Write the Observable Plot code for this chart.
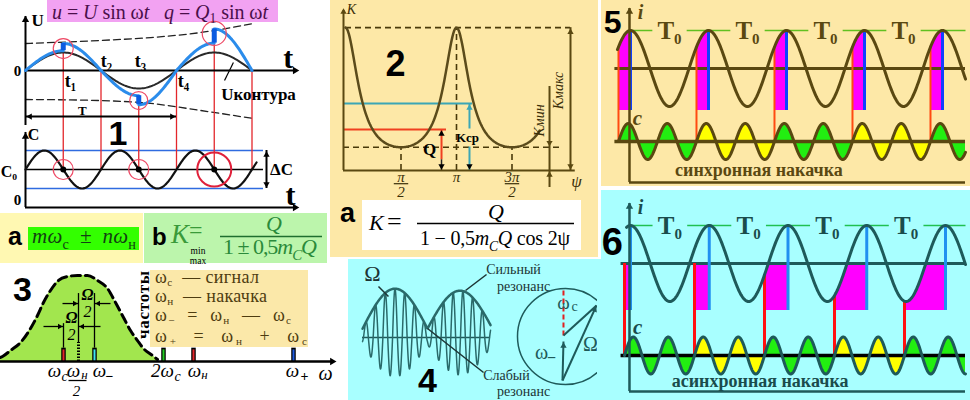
<!DOCTYPE html>
<html lang="ru"><head><meta charset="utf-8">
<script src="https://cdn.jsdelivr.net/npm/d3@7"></script>
<script src="https://cdn.jsdelivr.net/npm/@observablehq/plot@0.6"></script>
<style>
html,body{margin:0;padding:0;background:#fff;}
#root{position:relative;width:970px;height:400px;overflow:hidden;background:#fff;}
#root svg{position:absolute;}
</style></head><body><div id="root"></div>
<script>
const PI = Math.PI;
const SERIF = "'Liberation Serif','DejaVu Serif',serif";
const SANS = "'Liberation Sans','DejaVu Sans',sans-serif";
const RED = "#E3262B", OLIVE = "#5A4811", TEAL = "#1E5A5A";

// ================= DATA =================
// Panel 1 : u = U sin wt, charge q pumped at t1, t3, t5 (t in units of T)
const p1Marks = [0.25, 0.5, 0.75, 1.0, 1.25, 1.5];
const p1Labels = ["t₁", "t₂", "t₃", "t₄"];
const uAmplitude = 1;
const qQuarterAmps = [1.1, 1.5, 1.4, 1.9, 1.52, 2.31];
const qJumpTimes = [0.25, 0.75, 1.25];
const qJumpFrom = [1.1, -1.4, 1.52];
const qJumpTo = [1.5, -1.9, 2.31];
const envTimes = [0, 0.5, 0.83, 1.16, 1.51];
const envUpper = [1.5, 1.67, 1.83, 2.11, 2.61];
const envLower = [-1.61, -1.67, -1.83, -2.22, -2.67];
const cAmplitude = 1;      // ΔC
const cFreqRatio = 2;      // C varies at twice the signal frequency
// Panel 2 : K = Q / (1 - 0.5 mC Q cos 2ψ), ψ in units of π
const kQ = 1, kMC = 1.44, kSpan = 1.75;
const kcpLevel = 1.675, qLevel = 1.025;
const psiTicks = [0.5, 1, 1.5];
const psiTickNum = ["π", "π", "3π"];
const psiTickDen = ["2", "", "2"];
// Panel 3 : resonance curve and spectrum
const bellX = [0, 2, 10, 20, 30, 37, 43, 50, 58, 67, 77, 87, 97, 107, 115, 123, 130, 137, 143, 152, 157];
const bellA = [0.047, 0.058, 0.128, 0.221, 0.384, 0.535, 0.686, 0.826, 0.942, 0.988, 1.0, 1.0, 0.942, 0.849, 0.686, 0.512, 0.36, 0.244, 0.151, 0.07, 0.023];
const specFreq = [63, 78, 94, 163, 193, 293];
const specColor = ["#E3262B", "dotted", "#3EE6F2", "#22CC22", "#E3262B", "#1F5BE0"];
// Panel 4 : beats
const beatBase = 0.22, beatHumps = [1.0, 0.95], carrierCycles = 6.7, troughRatio = 0.8;
// Panels 5, 6 : synchronous / asynchronous pumping (t in units of T0)
const signalPeaks = [0, 1, 2, 3, 4];
const syncPumpPeriod = 0.5, syncPumpStart = -0.154;
const asyncPumpPeriod = 0.4444, asyncPumpStart = -0.076;
const fillColors = ["#22EE11", "#FFFF00"];

// ================= HELPERS =================
const root = document.getElementById("root");
const rng = (a, b, n) => d3.range(n + 1).map(i => a + (b - a) * i / n);
function panel(o) {
  const svg = Plot.plot({
    width: o.width, height: o.height,
    marginTop: 0, marginRight: 0, marginBottom: 0, marginLeft: 0,
    x: {domain: o.x, range: [0, o.width], axis: null},
    y: {domain: o.y, range: [o.height, 0], axis: null},
    style: {background: "transparent", overflow: o.clip ? "hidden" : "visible"},
    marks: o.marks.flat()
  });
  svg.style.position = "absolute";
  svg.style.left = o.left + "px";
  svg.style.top = o.top + "px";
  root.appendChild(svg);
}
function txt(s, x, y, o = {}) {
  return Plot.text([s], {x: () => x, y: () => y, text: d => d, fontFamily: SERIF, fontSize: 16, fill: "#000", textAnchor: "middle", lineAnchor: "middle", ...o});
}
function seg(x1, y1, x2, y2, o = {}) {
  return Plot.link([0], {x1: () => x1, y1: () => y1, x2: () => x2, y2: () => y2, stroke: "#000", strokeWidth: 1.5, ...o});
}
function head(x, y, a, o = {}) {
  const r = o.r ?? 3, k = 1.5 * r, rad = a * PI / 180;
  return Plot.dot([0], {x: () => x, y: () => y, symbol: "triangle2", r, fill: o.fill ?? "#000", rotate: a, dx: -k * Math.sin(rad), dy: k * Math.cos(rad)});
}
function rich(svg, x, y, parts, o = {}) {
  const size = o.size || 20;
  const subOff = o.subOff ?? 0.28, subSize = o.subSize ?? 0.68;
  const t = svg.append("text").attr("x", x).attr("y", y)
    .attr("font-family", o.family || SERIF).attr("font-size", size)
    .attr("fill", o.fill || "#000").attr("font-weight", o.weight || "normal")
    .attr("text-anchor", o.anchor || "start").style("white-space", "pre");
  if (o.italic) t.attr("font-style", "italic");
  if (o.len) t.attr("textLength", o.len).attr("lengthAdjust", "spacing");
  let cur = 0;
  for (const p of parts) {
    const [s, f = {}] = Array.isArray(p) ? p : [p];
    const off = f.sub ? size * subOff : 0;
    const ts = t.append("tspan").text(s);
    if (off !== cur) { ts.attr("dy", off - cur); cur = off; }
    if (f.sub) ts.attr("font-size", size * subSize);
    if (f.i) ts.attr("font-style", "italic");
    if (f.r) ts.attr("font-style", "normal");
    if (f.fill) ts.attr("fill", f.fill);
  }
  return t;
}

// ================= BACKGROUNDS =================
const bg = d3.create("svg").attr("width", 970).attr("height", 400).style("left", "0px").style("top", "0px");
root.appendChild(bg.node());
[
  [330, 0, 268, 257, "#FDE8A7"], [601, 0, 369, 186, "#FDE8A7"],
  [601, 190, 369, 210, "#A8FFFF"], [348, 259, 253, 141, "#A8FFFF"],
  [362, 200, 219, 50, "#FFFFFF"], [0, 213, 143, 50, "#FFF8B2"],
  [28, 227, 111, 23, "#33FF00"], [144, 213, 183, 50, "#BCF5AC"],
  [150, 270, 158, 77, "#FBE8A9"], [47, 0, 231, 22, "#F2A2F2"]
].forEach(([x, y, w, h, c]) => bg.append("rect").attr("x", x).attr("y", y).attr("width", w).attr("height", h).attr("fill", c));

// ================= PANEL 1 (top) =================
const X1 = [-25 / 151, 315 / 151];
const Y1a = [-55 / 18, 70 / 18];
const qPts = qQuarterAmps.flatMap((A, k) => rng(k / 4, (k + 1) / 4, 30).map(t => ({t, v: A * Math.sin(2 * PI * t), k})));
const uPts = rng(0, 1.5, 150).map(t => ({t, v: uAmplitude * Math.sin(2 * PI * t)}));
const redTop = p1Marks.map(t => { const j = qJumpTimes.indexOf(t); return j >= 0 ? qJumpTo[j] : 0; });
const envU = envTimes.map((t, i) => ({t, v: envUpper[i]}));
const envL = envTimes.map((t, i) => ({t, v: envLower[i]}));
const pink = "#EE4A66";
panel({left: 0, top: 0, width: 340, height: 125, x: X1, y: Y1a, marks: [
  Plot.line(envU, {x: "t", y: "v", curve: "monotone-x", stroke: "#222", strokeWidth: 1.3, strokeDasharray: "7,4"}),
  Plot.line(envL, {x: "t", y: "v", curve: "monotone-x", stroke: "#222", strokeWidth: 1.3, strokeDasharray: "7,4"}),
  Plot.ruleX(p1Marks, {x: d => d, y1: (d, i) => redTop[i], y2: Y1a[0], stroke: RED, strokeWidth: 1.3}),
  Plot.ruleY([0], {x1: 0, x2: 1.79, stroke: "#000", strokeWidth: 2}),
  head(1.82, 0, 90, {r: 3.5}),
  Plot.ruleX([0], {y1: Y1a[0], y2: 3.0, stroke: "#000", strokeWidth: 2}),
  head(0, 3.1, 0, {r: 3.5}),
  Plot.ruleY([-2.56], {x1: 0, x2: 1, stroke: "#000", strokeWidth: 2}),
  head(0, -2.56, -90), head(1, -2.56, 90),
  Plot.line(uPts, {x: "t", y: "v", stroke: "#2A2A2A", strokeWidth: 2}),
  Plot.line(qPts, {x: "t", y: "v", z: "k", stroke: "#2B8CEB", strokeWidth: 3}),
  Plot.ruleX(qJumpTimes, {x: d => d, y1: (d, i) => qJumpFrom[i], y2: (d, i) => qJumpTo[i], stroke: "#0B5BE0", strokeWidth: 5}),
  Plot.dot([0], {x: () => 0.25, y: () => 1.22, r: 10, stroke: pink, fill: "none", strokeWidth: 1.2}),
  Plot.dot([0], {x: () => 0.75, y: () => -1.67, r: 9, stroke: pink, fill: "none", strokeWidth: 1.2}),
  Plot.dot([0], {x: () => 1.25, y: () => 2.06, r: 12, stroke: pink, fill: "none", strokeWidth: 1.2}),
  txt("U", 0.08, 2.78, {fontWeight: "bold", fontSize: 17}),
  txt("0", -0.053, -0.05, {fontWeight: "bold", fontSize: 15}),
  txt("t", 1.74, 0.67, {fontWeight: "bold", fontSize: 30}),
  txt(p1Labels[0], 0.298, -0.61, {fontWeight: "bold", fontSize: 18}),
  txt(p1Labels[1], 0.536, 0.5, {fontWeight: "bold", fontSize: 18}),
  txt(p1Labels[2], 0.762, 0.5, {fontWeight: "bold", fontSize: 18}),
  txt(p1Labels[3], 1.046, -0.61, {fontWeight: "bold", fontSize: 18}),
  txt("Uконтура", 1.543, -1.33, {fontWeight: "bold", fontSize: 17}),
  seg(1.377, 0.44, 1.318, -0.56, {strokeWidth: 1.2}),
  txt("T", 0.377, -2.22, {fontWeight: "bold", fontSize: 13})
]});

// ================= PANEL 1 (bottom, capacitance) =================
const Y1b = [-41 / 19, 44 / 19];
const cPts = rng(0, 1.53, 200).map(t => ({t, v: cAmplitude * Math.sin(2 * PI * cFreqRatio * t)}));
panel({left: 0, top: 125, width: 340, height: 85, x: X1, y: Y1b, marks: [
  Plot.ruleY([cAmplitude, -cAmplitude], {x1: 0, x2: 1.576, stroke: "#2F6BE0", strokeWidth: 1.5}),
  Plot.ruleY([0], {x1: 0, x2: 1.576, stroke: "#000", strokeWidth: 1.5}),
  Plot.ruleX(p1Marks, {x: d => d, y1: 0, y2: Y1b[1], stroke: RED, strokeWidth: 1.3}),
  Plot.ruleX([0], {y1: -2.0, y2: 1.95, stroke: "#000", strokeWidth: 2}),
  head(0, 2.0, 0, {r: 3.5}),
  Plot.ruleY([-2.0], {x1: 0, x2: 1.79, stroke: "#000", strokeWidth: 2}),
  head(1.82, -2.0, 90, {r: 3.5}),
  Plot.line(cPts, {x: "t", y: "v", stroke: "#111", strokeWidth: 2.2}),
  Plot.ruleX([1.596], {y1: -cAmplitude, y2: cAmplitude, stroke: "#000", strokeWidth: 2}),
  head(1.596, cAmplitude, 0), head(1.596, -cAmplitude, 180),
  Plot.dot([0], {x: () => 0.25, y: () => 0, r: 10, stroke: pink, fill: "none", strokeWidth: 1.2}),
  Plot.dot([0], {x: () => 0.75, y: () => 0, r: 10, stroke: pink, fill: "none", strokeWidth: 1.2}),
  Plot.dot([0], {x: () => 1.25, y: () => 0, r: 17, stroke: "#E0203A", fill: "none", strokeWidth: 2}),
  Plot.dot([0.25, 0.75, 1.25], {x: d => d, y: () => 0, r: 3, fill: "#000"}),
  txt("C", 0.053, 1.84, {fontWeight: "bold", fontSize: 16}),
  txt("C₀", -0.11, -0.1, {fontWeight: "bold", fontSize: 16}),
  txt("0", -0.053, -1.63, {fontWeight: "bold", fontSize: 15}),
  txt("t", 1.755, -1.37, {fontWeight: "bold", fontSize: 30}),
  txt("ΔC", 1.695, 0.0, {fontWeight: "bold", fontSize: 17}),
  txt("1", 0.613, 1.87, {fontFamily: SANS, fontWeight: "bold", fontSize: 34})
]});

// ================= PANEL 2 =================
const kFun = p => kQ / (1 - 0.5 * kMC * kQ * Math.cos(2 * PI * p));
const kMax = kFun(0), kMin = kFun(0.5);
const kPts = rng(0, kSpan, 240).map(p => ({p, K: kFun(p)}));
const dash = {stroke: "#4A3A0A", strokeWidth: 1.6, strokeDasharray: "6,4"};
const TEALL = "#3BA6B6";
panel({left: 330, top: 0, width: 268, height: 257, x: [-15 / 111, 253 / 111], y: [-87 / 40, 170 / 40], marks: [
  Plot.ruleY([kMax], {x1: 0, x2: 2.027, ...dash}),
  Plot.ruleX([1], {y1: 0, y2: kMax, ...dash}),
  Plot.ruleY([kMin], {x1: -0.018, x2: 1.94, ...dash}),
  Plot.ruleX([0.5, 1.5], {y1: 0, y2: kMin, ...dash}),
  Plot.ruleY([kcpLevel], {x1: -0.018, x2: 1.144, stroke: TEALL, strokeWidth: 2}),
  seg(1.117, 0.0, 1.117, 0.6, {stroke: TEALL, strokeWidth: 2}),
  seg(1.117, 1.05, 1.117, kcpLevel, {stroke: TEALL, strokeWidth: 2}),
  head(1.117, kcpLevel, 0, {fill: TEALL}), head(1.117, 0, 180),
  Plot.ruleY([qLevel], {x1: -0.018, x2: 0.91, stroke: "#F04020", strokeWidth: 2}),
  seg(0.865, 0.28, 0.865, qLevel, {stroke: "#F04020", strokeWidth: 2}),
  seg(0.865, 0, 0.865, 0.28, {stroke: "#222", strokeWidth: 1.5}),
  head(0.865, qLevel, 0), head(0.865, 0, 180),
  Plot.ruleX([-0.018], {y1: 0, y2: 4.0, stroke: OLIVE, strokeWidth: 2}),
  head(-0.018, 4.075, 0, {fill: OLIVE}),
  Plot.ruleY([0], {x1: -0.018, x2: 2.07, stroke: OLIVE, strokeWidth: 2}),
  Plot.ruleX([2.027], {y1: 0, y2: kMax, stroke: OLIVE, strokeWidth: 2}),
  head(2.027, kMax, 0, {fill: OLIVE}), head(2.027, 0, 180, {fill: OLIVE}),
  Plot.ruleX([1.838], {y1: -0.425, y2: 2.1, stroke: OLIVE, strokeWidth: 2}),
  head(1.838, kMin, 180, {fill: OLIVE}), head(1.838, 0, 0, {fill: OLIVE}),
  Plot.line(kPts, {x: "p", y: "K", stroke: "#5B4B1B", strokeWidth: 2.5}),
  Plot.text(psiTicks, {x: d => d, y: () => -0.175, text: (d, i) => psiTickNum[i], fontFamily: SERIF, fontStyle: "italic", fontSize: 15, fill: "#3A2E08", lineAnchor: "middle"}),
  Plot.text(psiTicks.filter((d, i) => psiTickDen[i]), {x: d => d, y: () => -0.545, text: () => "2", fontFamily: SERIF, fontStyle: "italic", fontSize: 15, fill: "#3A2E08", lineAnchor: "middle"}),
  Plot.link(psiTicks.filter((d, i) => psiTickDen[i]), {x1: d => d - 0.065, x2: d => d + 0.065, y1: () => -0.33, y2: () => -0.33, stroke: "#3A2E08", strokeWidth: 1.2}),
  txt("K", 0.054, 4.03, {fontStyle: "italic", fontSize: 14, fill: "#3A2E08"}),
  txt("ψ", 2.081, -0.275, {fontStyle: "italic", fontSize: 17, fill: "#3A2E08"}),
  txt("Kмакс", 1.919, 2.0, {fontStyle: "italic", fontSize: 14, rotate: -90, fill: "#3A2E08"}),
  txt("Kмин", 1.748, 1.25, {fontStyle: "italic", fontSize: 14, rotate: -90, fill: "#3A2E08"}),
  txt("Kср", 1.099, 0.825, {fontWeight: "bold", fontSize: 13}),
  txt("Q", 0.757, 0.525, {fontWeight: "bold", fontSize: 17}),
  txt("2", 0.45, 2.65, {fontFamily: SANS, fontWeight: "bold", fontSize: 36})
]});

// ================= PANELS 5 & 6 =================
function pumpPanel(o) {
  const {iH, H, xScale, bottomMag, cap, P, start, col, textCol, label, num, numY, axisTop, axisBottom, iStart, lineStart, tEnd, cCol} = o;
  const X = [-33 / xScale, 340 / xScale];
  const Yi = [(75 - iH) / 38 + o.iShift, 75 / 38 + o.iShift];
  const reds = signalPeaks.map(k => start + k * 2 * P);
  const iPts = rng(iStart, tEnd, 500).map(t => ({t, v: Math.cos(2 * PI * t)}));
  const mag = signalPeaks.flatMap((k, j) => rng(reds[j], k, 20).map(t => ({t, v: Math.min(Math.cos(2 * PI * t), cap), k})));
  const greens = [];
  signalPeaks.forEach(k => { if (k < 4) { greens.push([k, k + 0.28], [k + 0.72, k + 1]); } else greens.push([k, tEnd]); });
  panel({left: 597, top: o.panelTop, width: 373, height: iH, x: X, y: Yi, marks: [
    Plot.areaY(mag, {x: "t", y1: bottomMag, y2: "v", z: "k", fill: "#FF00FF"}),
    Plot.ruleY([0], {x1: lineStart, x2: tEnd, stroke: col, strokeWidth: 3}),
    Plot.ruleX(reds, {x: d => d, y1: d => Math.min(Math.cos(2 * PI * d), cap), y2: Yi[0], stroke: o.redCol, strokeWidth: o.redW}),
    Plot.ruleX(signalPeaks, {x: d => d, y1: bottomMag, y2: 1, stroke: o.blueCol, strokeWidth: 3}),
    Plot.link(greens, {x1: d => d[0], x2: d => d[1], y1: () => 1, y2: () => 1, stroke: o.greenCol, strokeWidth: 1.5}),
    Plot.line(iPts, {x: "t", y: "v", stroke: col, strokeWidth: 3}),
    Plot.text(signalPeaks.slice(0, 4), {x: d => d + 0.5, y: () => 1.0, text: () => "T₀", fontFamily: SERIF, fontWeight: "bold", fontSize: 25, fill: textCol, lineAnchor: "middle"}),
    txt("i", 0.128, 1.47, {fontStyle: "italic", fontWeight: "bold", fontSize: 20, fill: textCol}),
    txt(num, -0.23, numY, {fontFamily: SANS, fontWeight: "bold", fontSize: o.numSize})
  ]});
  const cz = o.cZero;
  const amp = o.cAmpPx;
  const Yc = [(cz - H) / amp, cz / amp];
  const cPts = rng(start, tEnd, 900).map(t => ({t, v: Math.sin(2 * PI * (t - start) / P), k: Math.floor((t - start) / (2 * P) + 1e-9)}));
  panel({left: 597, top: o.panelTop, width: 373, height: H, x: X, y: Yc, marks: [
    Plot.areaY(cPts.filter(d => d.k % 2 === 0), {x: "t", y1: 0, y2: "v", z: "k", fill: fillColors[0]}),
    Plot.areaY(cPts.filter(d => d.k % 2 === 1), {x: "t", y1: 0, y2: "v", z: "k", fill: fillColors[1]}),
    Plot.ruleY([0], {x1: lineStart, x2: tEnd, stroke: cCol, strokeWidth: 3.5}),
    Plot.line(cPts, {x: "t", y: "v", stroke: col, strokeWidth: 3}),
    Plot.ruleX([-0.013], {y1: (cz - axisBottom) / amp, y2: (cz - axisTop) / amp, stroke: col, strokeWidth: 2.5}),
    head(-0.013, (cz - axisTop + 2) / amp, 0, {fill: col, r: 3.5}),
    Plot.ruleY([(cz - axisBottom) / amp], {x1: -0.013, x2: tEnd, stroke: col, strokeWidth: 2.5}),
    txt("c", 0.09, o.cLabelY, {fontStyle: "italic", fontWeight: "bold", fontSize: 21, fill: textCol}),
    txt(label, 1.646, o.labelY, {fontWeight: "bold", fontSize: 18, fill: textCol})
  ]});
}
pumpPanel({panelTop: 0, iH: 141, H: 188, xScale: 78, iShift: -7 / 38, bottomMag: -1.105, cap: 5, P: syncPumpPeriod, start: syncPumpStart,
  col: OLIVE, textCol: OLIVE, cCol: OLIVE, label: "синхронная накачка", num: "5", numY: 1.21, numSize: 32, axisTop: 8, axisBottom: 182,
  iStart: -0.167, lineStart: -0.2, tEnd: 4.295, redCol: "#FF4A10", redW: 2, blueCol: "#1040FF", greenCol: "#60C020",
  cZero: 141, cAmpPx: 18, cLabelY: 1.3, labelY: -1.6});
pumpPanel({panelTop: 188, iH: 167, H: 212, xScale: 78.75, iShift: 0, bottomMag: -1.237, cap: 0, P: asyncPumpPeriod, start: asyncPumpStart,
  col: TEAL, textCol: "#1A4C4C", cCol: "#000", label: "асинхронная накачка", num: "6", numY: 0.55, numSize: 38, axisTop: 15, axisBottom: 203,
  iStart: -0.05, lineStart: -0.12, tEnd: 4.254, redCol: "#FF1010", redW: 3, blueCol: "#2090F0", greenCol: "#20C050",
  cZero: 167, cAmpPx: 18.5, cLabelY: 1.51, labelY: -1.405});

// ================= PANEL 4 (beats) =================
const env = t => beatBase + beatHumps[Math.min(1, Math.floor(t))] * Math.abs(Math.sin(PI * t));
const beatPts = rng(0, 1.97, 800).map(t => { const c = Math.cos(2 * PI * carrierCycles * (t - 0.5)); return {t, v: env(t) * (c >= 0 ? c : troughRatio * c)}; });
const envPts = rng(0, 1.97, 200).map(t => ({t, v: env(t)}));
const LAB4 = "#1C3434";
panel({left: 348, top: 259, width: 249, height: 141, x: [-14 / 65, 235 / 65], y: [-63 / 40, 78 / 40], clip: true, marks: [
  Plot.ruleY([0], {x1: 0, x2: 1.97, stroke: TEAL, strokeWidth: 1.5}),
  Plot.line(beatPts, {x: "t", y: "v", stroke: "#2A6A6A", strokeWidth: 1.5}),
  Plot.line(envPts, {x: "t", y: "v", stroke: "#2A6A6A", strokeWidth: 2.5}),
  txt("Ω", 0.154, 1.6, {fontSize: 22, fill: LAB4}),
  seg(0.246, 1.275, 0.4, 1.025, {stroke: LAB4, strokeWidth: 1.5}),
  txt("Сильный", 2.323, 1.7, {fontSize: 14, fill: LAB4}),
  txt("резонанс", 2.477, 1.27, {fontSize: 14, fill: LAB4}),
  seg(1.585, 1.175, 1.908, 1.575, {stroke: LAB4, strokeWidth: 1.5}),
  txt("Слабый", 2.215, -0.94, {fontSize: 14, fill: LAB4}),
  txt("резонанс", 2.477, -1.36, {fontSize: 14, fill: LAB4}),
  seg(1.0, 0.225, 1.862, -0.875, {stroke: LAB4, strokeWidth: 1.5}),
  txt("4", 1.0, -1.1, {fontFamily: SANS, fontWeight: "bold", fontSize: 34})
]});
// phasor diagram
panel({left: 510, top: 259, width: 87, height: 141, x: [-55 / 48, 32 / 48], y: [-64 / 48, 77 / 48], clip: true, marks: [
  Plot.dot([0], {x: () => 0, y: () => 0, r: 48, stroke: TEAL, fill: "none", strokeWidth: 1.5}),
  seg(-0.042, 0.02, -0.042, 0.98, {stroke: "#E02020", strokeWidth: 2, strokeDasharray: "5,3"}),
  seg(-0.0625, -0.917, -0.042, -0.104, {stroke: TEAL, strokeWidth: 2}),
  head(-0.042, -0.104, 0, {fill: TEAL}),
  seg(-0.0625, -0.917, 0.646, 0.646, {stroke: TEAL, strokeWidth: 2}),
  seg(-0.042, 0.02, 0.646, 0.646, {stroke: TEAL, strokeWidth: 2}),
  head(0.646, 0.646, 24, {fill: TEAL}),
  txt("ω", -0.042, 0.708, {fontSize: 19, fill: TEAL}),
  txt("c", 0.1875, 0.625, {fontSize: 14, fill: TEAL}),
  txt("ω", -0.5, -0.333, {fontSize: 20, fill: TEAL}),
  txt("−", -0.29, -0.4375, {fontSize: 16, fontWeight: "bold", fill: TEAL}),
  txt("Ω", 0.52, -0.167, {fontSize: 20, fill: TEAL})
]});

// ================= PANEL 3 (spectrum) =================
const bell = bellX.map((x, i) => ({x, a: bellA[i]}));
const ital = {fontStyle: "italic", fontSize: 20, fill: "#000"};
const subI = {fontStyle: "italic", fontSize: 14, fill: "#000"};
panel({left: 0, top: 262, width: 345, height: 138, x: [0, 345], y: [-39 / 86, 99 / 86], marks: [
  Plot.areaY(bell, {x: "x", y: "a", fill: "#A2E64E", curve: "monotone-x"}),
  Plot.line(bell, {x: "x", y: "a", stroke: "#000", strokeWidth: 3, strokeDasharray: "9,5", curve: "monotone-x"}),
  specFreq.map((f, i) => specColor[i] === "dotted"
    ? Plot.ruleX([f], {y1: 0, y2: 0.22, stroke: "#000", strokeWidth: 3, strokeDasharray: "1.5,1.5"})
    : [Plot.ruleX([f], {y1: 0, y2: 0.155, stroke: "#000", strokeWidth: 4.5}), Plot.ruleX([f], {y1: 0, y2: 0.135, stroke: specColor[i], strokeWidth: 2})]),
  Plot.ruleX([63], {y1: 0.155, y2: 0.44, stroke: "#000", strokeWidth: 1.3}),
  Plot.ruleX([78], {y1: 0.22, y2: 0.79, stroke: "#000", strokeWidth: 1.3}),
  Plot.ruleX([94], {y1: 0.155, y2: 0.79, stroke: "#000", strokeWidth: 1.3}),
  seg(43, 0.407, 63, 0.407, {strokeWidth: 1.3}), head(63, 0.407, 90, {r: 2.6}),
  seg(100, 0.407, 78, 0.407, {strokeWidth: 1.3}), head(78, 0.407, -90, {r: 2.6}),
  seg(62, 0.674, 78, 0.674, {strokeWidth: 1.3}), head(78, 0.674, 90, {r: 2.6}),
  seg(110, 0.674, 94, 0.674, {strokeWidth: 1.3}), head(94, 0.674, -90, {r: 2.6}),
  txt("Ω", 71, 0.51, {...ital, fontWeight: "bold", fontSize: 16}), txt("2", 71, 0.31, {...ital, fontSize: 16}),
  txt("Ω", 87, 0.775, {...ital, fontWeight: "bold", fontSize: 16}), txt("2", 87, 0.575, {...ital, fontSize: 16}),
  Plot.ruleY([0], {x1: 0, x2: 334, stroke: "#000", strokeWidth: 2.5}),
  head(337, 0, 90, {r: 3.5}),
  txt("ω", 54, -0.11, {...ital, fontSize: 19}), txt("c", 64, -0.17, subI),
  txt("ω", 73, -0.11, {...ital, fontSize: 19}), txt("н", 84, -0.16, {...subI, fontSize: 13}),
  seg(68, -0.221, 86, -0.221, {strokeWidth: 1.3}), txt("2", 76, -0.345, {...ital, fontSize: 15}),
  txt("ω", 99, -0.11, {...ital, fontSize: 19}), txt("−", 109, -0.17, {...subI, fontWeight: "bold", fontStyle: "normal"}),
  txt("2ω", 162, -0.11, {...ital, fontSize: 19}), txt("c", 177, -0.17, subI),
  txt("ω", 194, -0.11, {...ital, fontSize: 19}), txt("н", 204, -0.16, {...subI, fontSize: 13}),
  txt("ω", 292, -0.11, {...ital, fontSize: 19}), txt("+", 304, -0.17, {...subI, fontWeight: "bold", fontStyle: "normal"}),
  txt("ω", 325, -0.14, ital),
  txt("3", 22, 0.826, {fontFamily: SANS, fontWeight: "bold", fontSize: 34})
]});

// ================= FORMULAS / TEXT OVERLAY =================
const overlay = d3.create("svg").attr("width", 970).attr("height", 400).style("left", "0px").style("top", "0px").style("pointer-events", "none");
root.appendChild(overlay.node());
rich(overlay, 52, 19, [["u", {i: 1}], " = ", ["U", {i: 1}], " sin ω", ["t", {i: 1}], "   ", ["q", {i: 1}], " = ", ["Q", {i: 1}], ["1", {sub: 1}], " sin ω", ["t", {i: 1}]], {size: 20, fill: "#4A0F4A", len: 216, subOff: 0.2});
// panel 2 formula
rich(overlay, 340, 222, ["a"], {family: SANS, weight: "bold", size: 27});
rich(overlay, 369, 230, [["K", {i: 1}]], {size: 22});
rich(overlay, 387, 230, ["="], {size: 26, len: 19});
rich(overlay, 496, 219, [["Q", {i: 1}]], {size: 22, anchor: "middle"});
overlay.append("line").attr("x1", 417).attr("x2", 574).attr("y1", 223.5).attr("y2", 223.5).attr("stroke", "#000").attr("stroke-width", 1.5);
rich(overlay, 420, 245, ["1 − 0,5", ["m", {i: 1}], ["C", {sub: 1, i: 1}], ["Q", {i: 1}], " cos 2ψ"], {size: 20, len: 150});
// panel 3 formulas
rich(overlay, 8, 245, ["a"], {family: SANS, weight: "bold", size: 25});
rich(overlay, 32, 243, [["m"], "ω", ["с", {sub: 1, r: 1}], "  ±  ", ["n"], "ω", ["н", {sub: 1, r: 1}]], {size: 21, fill: "#123F12", italic: true, len: 104});
rich(overlay, 152, 245, ["b"], {family: SANS, weight: "bold", size: 24});
rich(overlay, 171, 243, [["K", {i: 1}]], {size: 27, fill: "#3A9A3A"});
rich(overlay, 189, 238, ["="], {size: 24, fill: "#3A9A3A", len: 20});
rich(overlay, 198, 253.5, ["min"], {size: 9.5, anchor: "middle"});
rich(overlay, 198, 264, ["max"], {size: 9.5, anchor: "middle"});
rich(overlay, 274, 231, [["Q", {i: 1}]], {size: 22, fill: "#2A8A3A", anchor: "middle"});
overlay.append("line").attr("x1", 220).attr("x2", 322).attr("y1", 236.5).attr("y2", 236.5).attr("stroke", "#1F6F2F").attr("stroke-width", 1.5);
rich(overlay, 223, 254, ["1 ± 0,5", ["m", {i: 1}], ["C", {sub: 1, i: 1}], ["Q", {i: 1}]], {size: 22, fill: "#2A8A3A", len: 94});
// legend
const LEG = {size: 18, fill: "#4E3C10", subOff: 0.16, subSize: 0.62};
rich(overlay, 155, 283, ["ω", ["с", {sub: 1}], "  — сигнал"], {...LEG, len: 104});
rich(overlay, 155, 302, ["ω", ["н", {sub: 1}], "  — накачка"], {...LEG, len: 112});
rich(overlay, 155, 321, ["ω", ["−", {sub: 1}], "  =  ω", ["н", {sub: 1}], "  —  ω", ["с", {sub: 1}]], {...LEG, len: 136});
rich(overlay, 155, 342, ["ω", ["+", {sub: 1}], "  =  ω", ["н", {sub: 1}], "  +  ω", ["с", {sub: 1}]], {...LEG, len: 152});
overlay.append("text").attr("transform", "translate(143,305) rotate(-90)").attr("text-anchor", "middle").attr("dominant-baseline", "central")
  .attr("font-family", SERIF).attr("font-weight", "bold").attr("font-size", 17).attr("textLength", 68).attr("lengthAdjust", "spacing").text("частоты");
</script></body></html>
